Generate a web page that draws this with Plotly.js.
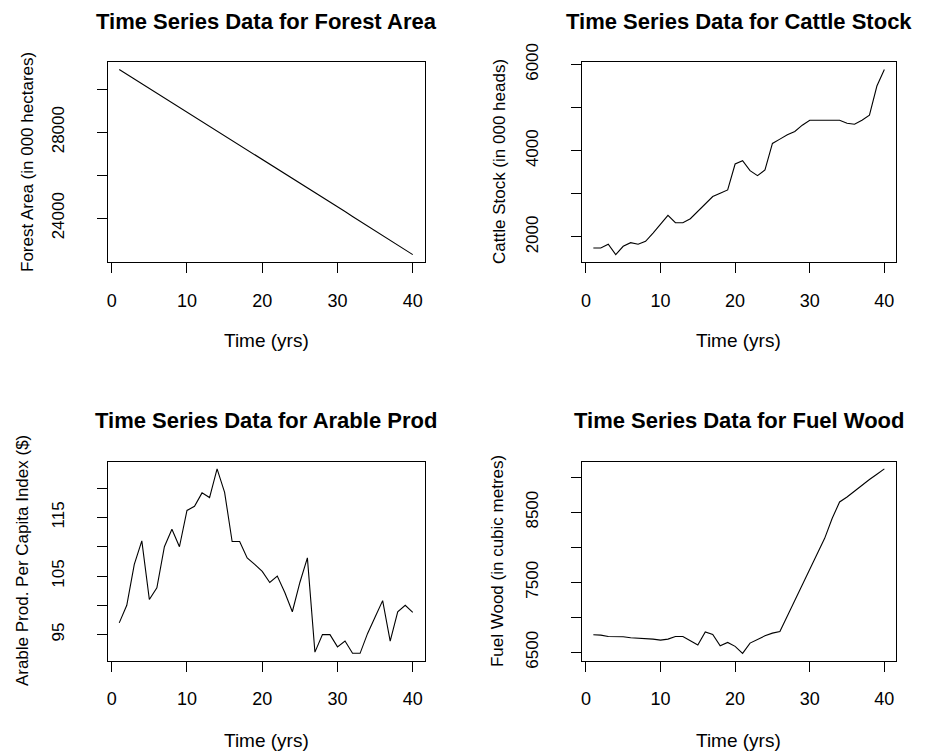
<!DOCTYPE html>
<html><head><meta charset="utf-8">
<script src="https://cdn.plot.ly/plotly-3.0.1.min.js"></script>
<style>html,body{margin:0;padding:0;background:#fff;}#chart{width:941px;height:751px;}</style>
</head><body><div id="chart"></div>
<script>
// ---- data ----
const years = [1,2,3,4,5,6,7,8,9,10,11,12,13,14,15,16,17,18,19,20,21,22,23,24,25,26,27,28,29,30,31,32,33,34,35,36,37,38,39,40];
const forestArea = [30920,30700,30490,30280,30060,29820,29600,29390,29150,28930,28710,28500,28280,28060,27830,27610,27400,27170,26950,26730,26510,26290,26070,25850,25630,25410,25190,24970,24750,24530,24310,24080,23860,23640,23420,23200,22980,22760,22530,22310];
const cattleStock = [1746,1746,1831,1592,1785,1869,1831,1900,2092,2308,2500,2331,2331,2423,2592,2754,2938,3015,3092,3692,3769,3538,3423,3554,4169,4269,4369,4446,4592,4708,4708,4708,4708,4708,4638,4615,4708,4823,5500,5885];
const arableProd = [97,100,107,111,101,103,110,113,110,116.2,116.9,119.2,118.4,123.3,119.3,110.9,110.9,108.1,107,105.8,103.9,105,102.2,98.9,103.9,108.1,92,95,95,92.9,93.9,91.8,91.8,95.2,98,100.8,93.9,98.9,100,98.8];
const fuelWood = [6750,6745,6726,6726,6722,6708,6703,6689,6689,6675,6689,6726,6726,6665,6604,6792,6755,6594,6641,6585,6486,6632,6689,6736,6774,6797,7019,7245,7453,7679,7906,8127,8410,8646,8717,8802,8892,8967,9042,9118];

const xTickVals = [0,10,20,30,40];
const xTickText = ['0','10','20','30','40'];
const forestTickVals = [24000,26000,28000,30000];
const forestTickText = ['24000','','28000',''];
const cattleTickVals = [2000,3000,4000,5000,6000];
const cattleTickText = ['2000','','4000','','6000'];
const arableTickVals = [95,100,105,110,115,120];
const arableTickText = ['95','','105','','115',''];
const fuelTickVals = [6500,7000,7500,8000,8500,9000];
const fuelTickText = ['6500','','7500','','8500',''];

const panelTitles = ['Time Series Data for Forest Area','Time Series Data for Cattle Stock','Time Series Data for Arable Prod','Time Series Data for Fuel Wood'];
const yTitles = ['Forest Area (in 000 hectares)','Cattle Stock (in 000 heads)','Arable Prod. Per Capita Index ($)','Fuel Wood (in cubic metres)'];
const xTitle = 'Time (yrs)';

// ---- layout helpers ----
const W = 941, H = 751;
const FONT = 'Liberation Sans, Arial, Helvetica, sans-serif';
const colL = [107.5/W, 424.5/W], colR = [581.7/W, 896/W];
const rowT = [1-262/H, 1-62/H], rowB = [1-660.7/H, 1-461.5/H];

function rRange(arr){const mn=Math.min(...arr), mx=Math.max(...arr), p=(mx-mn)*0.04; return [mn-p, mx+p];}

function xax(domain, anchor){
  return {domain, anchor, range:rRange(years), tickmode:'array', tickvals:xTickVals, ticktext:xTickText,
    ticks:'outside', ticklen:10, tickcolor:'#000', tickwidth:1, showline:true, mirror:true,
    linecolor:'#000', linewidth:1, showgrid:false, zeroline:false,
    tickfont:{family:FONT, size:18, color:'#000'}, ticklabelstandoff:12, fixedrange:true};
}
function yax(domain, anchor, data, vals, text){
  return {domain, anchor, range:rRange(data), tickmode:'array', tickvals:vals, ticktext:text,
    ticks:'outside', ticklen:10, tickcolor:'#000', tickwidth:1, showline:true, mirror:true,
    linecolor:'#000', linewidth:1, showgrid:false, zeroline:false, tickangle:-90,
    tickfont:{family:FONT, size:17, color:'#000'}, ticklabelstandoff:26, fixedrange:true};
}

const line = {color:'#000', width:1.1};
const traces = [
  {x:years, y:forestArea, xaxis:'x', yaxis:'y', type:'scatter', mode:'lines', line},
  {x:years, y:cattleStock, xaxis:'x2', yaxis:'y2', type:'scatter', mode:'lines', line},
  {x:years, y:arableProd, xaxis:'x3', yaxis:'y3', type:'scatter', mode:'lines', line},
  {x:years, y:fuelWood, xaxis:'x4', yaxis:'y4', type:'scatter', mode:'lines', line}
];

const cx = [(107.5+424.5)/2, (581.7+896)/2];
const titleY = [21, 420.5];
const xTitleY = [341, 740];
const yTitleX = [[27, 499],[22, 497]];
const rowCenter = [(62+262)/2, (461.5+660.7)/2];

const annotations = [];
for (let r=0;r<2;r++){
  for (let c=0;c<2;c++){
    const i = r*2+c;
    annotations.push({text:'<b>'+panelTitles[i]+'</b>', xref:'paper', yref:'paper', x:cx[c]/W, y:1-titleY[r]/H,
      xanchor:'center', yanchor:'middle', showarrow:false, font:{family:FONT, size:22, color:'#000'}});
    annotations.push({text:xTitle, xref:'paper', yref:'paper', x:cx[c]/W, y:1-xTitleY[r]/H,
      xanchor:'center', yanchor:'middle', showarrow:false, font:{family:FONT, size:19, color:'#000'}});
    annotations.push({text:yTitles[i], xref:'paper', yref:'paper', x:yTitleX[r][c]/W, y:1-rowCenter[r]/H,
      xanchor:'center', yanchor:'middle', textangle:-90, showarrow:false, font:{family:FONT, size:17, color:'#000'}});
  }
}

const layout = {
  width:W, height:H, margin:{l:0,r:0,t:0,b:0}, paper_bgcolor:'#fff', plot_bgcolor:'#fff', showlegend:false,
  xaxis: xax(colL,'y'), yaxis: yax(rowT,'x',forestArea,forestTickVals,forestTickText),
  xaxis2: xax(colR,'y2'), yaxis2: yax(rowT,'x2',cattleStock,cattleTickVals,cattleTickText),
  xaxis3: xax(colL,'y3'), yaxis3: yax(rowB,'x3',arableProd,arableTickVals,arableTickText),
  xaxis4: xax(colR,'y4'), yaxis4: yax(rowB,'x4',fuelWood,fuelTickVals,fuelTickText),
  annotations
};
Plotly.newPlot('chart', traces, layout, {staticPlot:true, displayModeBar:false});
</script></body></html>
